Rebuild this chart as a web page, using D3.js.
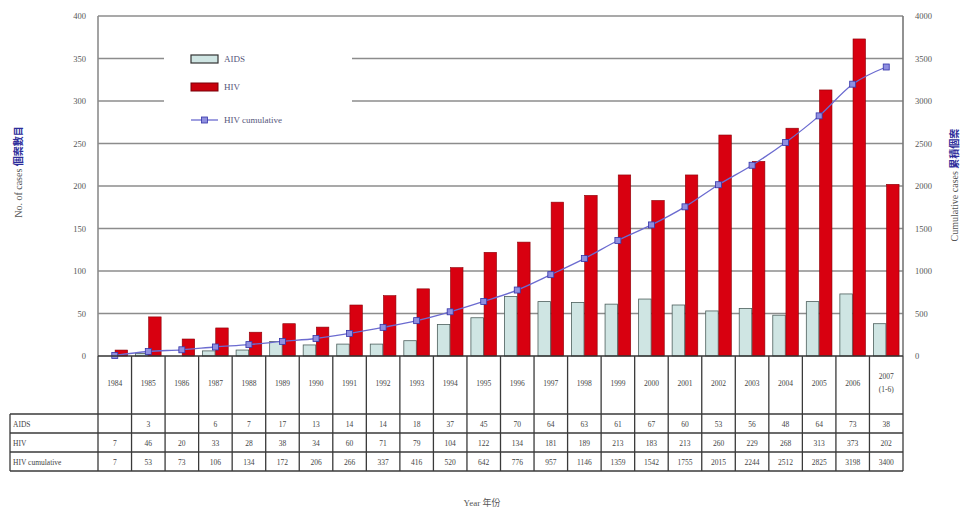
<!DOCTYPE html>
<html>
<head>
<meta charset="utf-8">
<script src="https://cdn.jsdelivr.net/npm/d3@7"></script>
<style>
  body { margin: 0; background: #fff; }
  text { font-family: "Liberation Serif", "DejaVu Serif", serif; }
</style>
</head>
<body>
<div id="chart"></div>
<script>
// data
const years = ['1984','1985','1986','1987','1988','1989','1990','1991','1992','1993','1994','1995',
               '1996','1997','1998','1999','2000','2001','2002','2003','2004','2005','2006','2007 (1-6)'];
const aids = [null,3,null,6,7,17,13,14,14,18,37,45,70,64,63,61,67,60,53,56,48,64,73,38];
const hiv = [7,46,20,33,28,38,34,60,71,79,104,122,134,181,189,213,183,213,260,229,268,313,373,202];
const hivCum = [7,53,73,106,134,172,206,266,337,416,520,642,776,957,1146,1359,1542,1755,2015,2244,2512,2825,3198,3400];
const leftTicks = [0,50,100,150,200,250,300,350,400];
const rightTicks = [0,500,1000,1500,2000,2500,3000,3500,4000];

const width = 971, height = 512;
const margin = {left:98, right:68, top:16, bottom:156};
const plotBottom = height - margin.bottom;   // 356
const plotRight = width - margin.right;      // 903

let svg = d3.select("#chart").append("svg")
    .attr("width", width)
    .attr("height", height);

let x = d3.scaleBand()
    .domain(years)
    .range([margin.left, plotRight]);

let inner = d3.scaleBand()
    .domain(['aids','hiv'])
    .range([0, x.bandwidth()])
    .paddingInner(0.05)
    .paddingOuter(0.3);

let yLeft = d3.scaleLinear().domain([0,400]).range([plotBottom, margin.top]);
let yRight = d3.scaleLinear().domain([0,4000]).range([plotBottom, margin.top]);

//#region grid and frame
svg.append("g")
    .selectAll("line")
    .data(leftTicks.slice(1))
    .join("line")
    .attr("x1", margin.left).attr("x2", plotRight)
    .attr("y1", d => yLeft(d)).attr("y2", d => yLeft(d))
    .attr("stroke", "#8c8c8c")
    .attr("stroke-width", 1.6);

svg.append("line")
    .attr("x1", margin.left).attr("x2", margin.left)
    .attr("y1", margin.top).attr("y2", plotBottom)
    .attr("stroke", "#8c8c8c").attr("stroke-width", 1.6);
svg.append("line")
    .attr("x1", plotRight).attr("x2", plotRight)
    .attr("y1", margin.top).attr("y2", plotBottom)
    .attr("stroke", "#777").attr("stroke-width", 1.6);
//#endregion

//#region axes
let leftAxis = d3.axisLeft(yLeft).tickValues(leftTicks).tickSize(0).tickPadding(12)
    .tickFormat(d3.format("d"));
svg.append("g").attr("transform", `translate(${margin.left},0)`).call(leftAxis)
    .call(g => g.select(".domain").remove())
    .selectAll("text").attr("font-size", 8.5).attr("fill", "#555")
    .style("font-family", "Liberation Serif");

let rightAxis = d3.axisRight(yRight).tickValues(rightTicks).tickSize(0).tickPadding(12)
    .tickFormat(d3.format("d"));
svg.append("g").attr("transform", `translate(${plotRight},0)`).call(rightAxis)
    .call(g => g.select(".domain").remove())
    .selectAll("text").attr("font-size", 8.5).attr("fill", "#555")
    .style("font-family", "Liberation Serif");
//#endregion

//#region bars
svg.selectAll("rect.aids")
    .data(years.map((y,i) => ({year:y, v:aids[i]})).filter(d => d.v != null))
    .join("rect")
    .attr("class", "aids")
    .attr("x", d => x(d.year) + inner('aids'))
    .attr("y", d => yLeft(d.v))
    .attr("width", inner.bandwidth())
    .attr("height", d => plotBottom - yLeft(d.v))
    .attr("fill", "#cfe5e3")
    .attr("stroke", "#4d5f5c")
    .attr("stroke-width", 0.8);

svg.selectAll("rect.hiv")
    .data(years.map((y,i) => ({year:y, v:hiv[i]})))
    .join("rect")
    .attr("class", "hiv")
    .attr("x", d => x(d.year) + inner('hiv'))
    .attr("y", d => yLeft(d.v))
    .attr("width", inner.bandwidth())
    .attr("height", d => plotBottom - yLeft(d.v))
    .attr("fill", "#d80010")
    .attr("stroke", "#8a0008")
    .attr("stroke-width", 0.6);
//#endregion

//#region cumulative line
let cumData = years.map((y,i) => ({year:y, v:hivCum[i]}));
let lineFn = d3.line()
    .x(d => x(d.year) + x.bandwidth()/2)
    .y(d => yRight(d.v))
    .curve(d3.curveMonotoneX);   // the reference line is lightly smoothed

svg.append("path")
    .datum(cumData)
    .attr("d", lineFn)
    .attr("fill", "none")
    .attr("stroke", "#6b6bd0")
    .attr("stroke-width", 1.3);

svg.selectAll("rect.cum")
    .data(cumData)
    .join("rect")
    .attr("class", "cum")
    .attr("x", d => x(d.year) + x.bandwidth()/2 - 3)
    .attr("y", d => yRight(d.v) - 3)
    .attr("width", 6).attr("height", 6)
    .attr("fill", "#8f8fe0")
    .attr("stroke", "#3434a8")
    .attr("stroke-width", 0.8);
//#endregion

// bottom axis line
svg.append("line")
    .attr("x1", margin.left).attr("x2", plotRight)
    .attr("y1", plotBottom).attr("y2", plotBottom)
    .attr("stroke", "#333").attr("stroke-width", 1.5);

//#region legend
let legend = svg.append("g");
legend.append("rect")
    .attr("x", 164).attr("y", 40).attr("width", 188).attr("height", 96)
    .attr("fill", "#fff");

legend.append("rect").attr("x", 191).attr("y", 55).attr("width", 27).attr("height", 8)
    .attr("fill", "#cfe5e3").attr("stroke", "#333").attr("stroke-width", 1.2);
legend.append("rect").attr("x", 191).attr("y", 83).attr("width", 27).attr("height", 8)
    .attr("fill", "#c8000c").attr("stroke", "#7a0008").attr("stroke-width", 1);
legend.append("line").attr("x1", 191).attr("x2", 218).attr("y1", 120).attr("y2", 120)
    .attr("stroke", "#6b6bd0").attr("stroke-width", 1.3);
legend.append("rect").attr("x", 201.5).attr("y", 117).attr("width", 6).attr("height", 6)
    .attr("fill", "#8f8fe0").attr("stroke", "#3434a8").attr("stroke-width", 0.8);

legend.selectAll("text")
    .data([["AIDS",62],["HIV",90],["HIV cumulative",123]])
    .join("text")
    .attr("x", 224)
    .attr("y", d => d[1])
    .attr("font-size", 9)
    .attr("fill", "#55557a")
    .text(d => d[0]);
//#endregion

//#region table
const rowLabels = ["AIDS","HIV","HIV cumulative"];
const rowData = [aids, hiv, hivCum];
const headerBottom = 414, rowH = 19, tableLeft = 10;
const tableBottom = headerBottom + rowH * 3;
const lineColor = "#3a3a3a";

let tbl = svg.append("g");
// vertical column lines
let bounds = years.map(y => x(y)).concat([plotRight]);
tbl.selectAll("line.col")
    .data(bounds)
    .join("line")
    .attr("x1", d => d).attr("x2", d => d)
    .attr("y1", plotBottom).attr("y2", tableBottom)
    .attr("stroke", lineColor).attr("stroke-width", 1.3);
tbl.append("line")
    .attr("x1", tableLeft).attr("x2", tableLeft)
    .attr("y1", headerBottom).attr("y2", tableBottom)
    .attr("stroke", lineColor).attr("stroke-width", 1.3);
// horizontal row lines
tbl.selectAll("line.row")
    .data([0,1,2,3])
    .join("line")
    .attr("x1", tableLeft).attr("x2", plotRight)
    .attr("y1", d => headerBottom + d*rowH).attr("y2", d => headerBottom + d*rowH)
    .attr("stroke", lineColor).attr("stroke-width", 1.3);

// year header
tbl.selectAll("text.year")
    .data(years)
    .join("text")
    .attr("class", "year")
    .attr("x", d => x(d) + x.bandwidth()/2)
    .attr("y", d => d.includes("(") ? 379 : 386)
    .attr("text-anchor", "middle")
    .attr("font-size", 7.5)
    .attr("fill", "#444")
    .each(function(d){
        let parts = d.split(" ");
        d3.select(this).selectAll("tspan")
            .data(parts)
            .join("tspan")
            .attr("x", x(d) + x.bandwidth()/2)
            .attr("dy", (p,i) => i == 0 ? 0 : 13)
            .text(p => p);
    });

// row labels
tbl.selectAll("text.label")
    .data(rowLabels)
    .join("text")
    .attr("class", "label")
    .attr("x", tableLeft + 3)
    .attr("y", (d,i) => headerBottom + i*rowH + 13)
    .attr("font-size", 7.5)
    .attr("fill", "#444")
    .text(d => d);

// row values
rowData.forEach((arr, r) => {
    tbl.selectAll("text.v" + r)
        .data(years.map((y,i) => ({year:y, v:arr[i]})).filter(d => d.v != null))
        .join("text")
        .attr("class", "v" + r)
        .attr("x", d => x(d.year) + x.bandwidth()/2)
        .attr("y", headerBottom + r*rowH + 13)
        .attr("text-anchor", "middle")
        .attr("font-size", 7.5)
        .attr("fill", "#444")
        .text(d => d.v);
});
//#endregion

//#region titles
svg.append("text")
    .attr("transform", "translate(22,172) rotate(-90)")
    .attr("text-anchor", "middle")
    .attr("font-size", 10)
    .attr("fill", "#555")
    .html('No. of cases <tspan fill="#2c2c9a" font-weight="bold" style="font-family:\'Noto Sans CJK TC\'">個案數目</tspan>');

svg.append("text")
    .attr("transform", "translate(958,185) rotate(-90)")
    .attr("text-anchor", "middle")
    .attr("font-size", 10)
    .attr("fill", "#555")
    .html('Cumulative cases <tspan fill="#2c2c9a" font-weight="bold" style="font-family:\'Noto Sans CJK TC\'">累積個案</tspan>');

svg.append("text")
    .attr("x", 482).attr("y", 506)
    .attr("text-anchor", "middle")
    .attr("font-size", 9)
    .attr("fill", "#555")
    .html('Year <tspan style="font-family:\'Noto Sans CJK TC\'">年份</tspan>');
//#endregion
</script>
</body>
</html>
